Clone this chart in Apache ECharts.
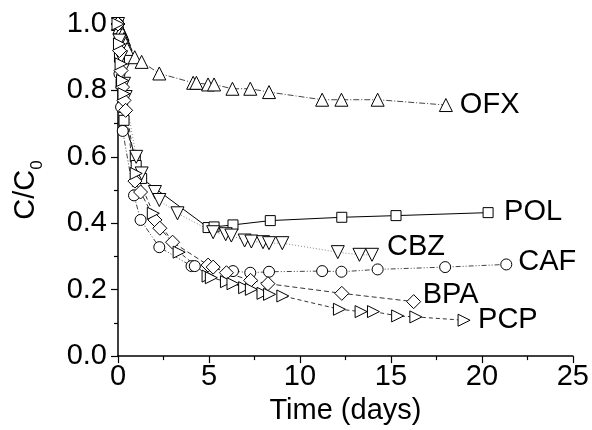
<!DOCTYPE html>
<html>
<head>
<meta charset="utf-8">
<script src="https://cdn.jsdelivr.net/npm/echarts@6/dist/echarts.min.js"></script>
<style>
html,body{margin:0;padding:0;background:#fff;}
#chart{width:592px;height:430px;}
</style>
</head>
<body>
<div id="chart"></div>
<script>
// ---- data ----
const xTicks = [0, 5, 10, 15, 20, 25];
const yTicks = [0.0, 0.2, 0.4, 0.6, 0.8, 1.0];

const ofxX = [0, 0.08, 0.17, 0.25, 0.33, 0.42, 0.5, 0.92, 1.3, 2.27, 4.13, 4.31, 4.95, 5.28, 6.29, 7.27, 8.3, 11.22, 12.28, 14.27, 18.02];
const ofxY = [1.0, 0.99, 0.98, 0.97, 0.955, 0.94, 0.925, 0.9, 0.886, 0.851, 0.823, 0.823, 0.818, 0.818, 0.805, 0.805, 0.795, 0.772, 0.772, 0.772, 0.756];

const polX = [0, 0.08, 0.17, 0.25, 0.33, 0.95, 1.0, 1.3, 4.95, 5.28, 6.32, 8.37, 12.3, 15.28, 20.34];
const polY = [1.0, 0.9, 0.82, 0.75, 0.71, 0.6, 0.574, 0.535, 0.387, 0.389, 0.395, 0.408, 0.418, 0.423, 0.432];

const cbzX = [0, 0.08, 0.17, 0.25, 0.33, 0.42, 1.0, 1.3, 2.03, 2.27, 3.27, 5.23, 5.92, 6.23, 6.96, 7.33, 7.97, 8.3, 9.03, 12.08, 13.27, 13.96];
const cbzY = [1.0, 0.95, 0.9, 0.86, 0.82, 0.78, 0.6, 0.55, 0.494, 0.47, 0.43, 0.373, 0.367, 0.363, 0.348, 0.345, 0.343, 0.34, 0.34, 0.313, 0.305, 0.305];

const cafX = [0, 0.08, 0.17, 0.26, 0.88, 1.24, 2.27, 4.04, 4.22, 6.32, 7.27, 8.3, 11.22, 12.28, 14.27, 17.98, 21.34];
const cafY = [1.0, 0.85, 0.75, 0.678, 0.484, 0.41, 0.328, 0.271, 0.271, 0.256, 0.251, 0.254, 0.256, 0.254, 0.261, 0.268, 0.276];

const bpaX = [0, 0.08, 0.17, 0.25, 0.33, 0.42, 0.93, 1.24, 2.03, 2.3, 3.0, 4.95, 5.23, 5.96, 7.29, 8.24, 12.3, 16.25];
const bpaY = [1.0, 0.92, 0.86, 0.81, 0.77, 0.74, 0.527, 0.494, 0.41, 0.385, 0.343, 0.274, 0.268, 0.251, 0.228, 0.218, 0.189, 0.164];

const pcpX = [0, 0.08, 0.17, 0.25, 0.33, 1.0, 1.94, 3.36, 4.95, 5.13, 5.96, 6.32, 6.96, 7.33, 7.97, 8.33, 9.06, 12.17, 13.36, 14.04, 15.37, 16.37, 19.02];
const pcpY = [1.0, 0.94, 0.88, 0.83, 0.79, 0.55, 0.43, 0.313, 0.241, 0.236, 0.224, 0.218, 0.206, 0.201, 0.189, 0.186, 0.181, 0.141, 0.134, 0.134, 0.121, 0.118, 0.108];

// ---- build chart ----
const FONT = '"Liberation Sans", Arial, sans-serif';
const FS = 29;
const zip = (xs, ys) => xs.map((x, i) => [x, ys[i]]);

function mk(name, xs, ys, symbol, size, rotate, dash, lineColor, labelOffset) {
  return {
    name: name,
    type: 'line',
    data: zip(xs, ys),
    symbol: symbol,
    symbolSize: size,
    symbolRotate: rotate,
    showAllSymbol: true,
    itemStyle: { color: '#fff', borderColor: '#000', borderWidth: 1 },
    lineStyle: { color: lineColor, width: 1, type: dash },
    emphasis: { disabled: true },
    animation: false,
    endLabel: {
      show: true,
      formatter: name,
      fontFamily: FONT,
      fontSize: FS,
      color: '#000',
      distance: 12,
      offset: labelOffset
    },
    z: 3
  };
}

const chart = echarts.init(document.getElementById('chart'), null, { renderer: 'canvas' });
chart.setOption({
  animation: false,
  backgroundColor: '#fff',
  grid: { left: 118, right: 17, top: 24, bottom: 71, containLabel: false },
  xAxis: {
    type: 'value',
    min: xTicks[0], max: xTicks[xTicks.length - 1], interval: 5,
    name: 'Time (days)',
    nameLocation: 'middle',
    nameGap: 38,
    nameTextStyle: { fontFamily: FONT, fontSize: FS, color: '#000' },
    axisLine: { show: true, lineStyle: { color: '#000', width: 1.5 } },
    axisTick: { show: true, inside: false, length: 7, lineStyle: { color: '#000', width: 1.2 } },
    minorTick: { show: true, splitNumber: 2, length: 4, lineStyle: { color: '#000', width: 1.2 } },
    axisLabel: { fontFamily: FONT, fontSize: FS, color: '#000', margin: 6 },
    splitLine: { show: false }
  },
  yAxis: {
    type: 'value',
    min: yTicks[0], max: yTicks[yTicks.length - 1], interval: 0.2,
    name: '{m|C/C}{s|0}',
    nameLocation: 'middle',
    nameGap: 72,
    nameRotate: 90,
    nameTextStyle: {
      fontFamily: FONT, color: '#000',
      rich: {
        m: { fontFamily: FONT, fontSize: FS, color: '#000', padding: [0, 0, 6, 0] },
        s: { fontFamily: FONT, fontSize: 17, color: '#000', verticalAlign: 'bottom' }
      }
    },
    axisLine: { show: true, lineStyle: { color: '#000', width: 1.5 } },
    axisTick: { show: true, inside: false, length: 7, lineStyle: { color: '#000', width: 1.2 } },
    minorTick: { show: true, splitNumber: 2, length: 4, lineStyle: { color: '#000', width: 1.2 } },
    axisLabel: {
      fontFamily: FONT, fontSize: FS, color: '#000', margin: 11,
      formatter: v => v.toFixed(1)
    },
    splitLine: { show: false }
  },
  series: [
    mk('OFX', ofxX, ofxY, 'triangle', 13, 0, [6, 2, 1, 2], '#444', [2, 0]),
    mk('POL', polX, polY, 'rect', 10, 0, 'solid', '#000', [4, -1]),
    mk('CBZ', cbzX, cbzY, 'triangle', 13, 180, [1, 2], '#888', [3, -8]),
    mk('CAF', cafX, cafY, 'circle', 11, 0, [5, 2, 1, 2, 1, 2], '#444', [0, -2]),
    mk('BPA', bpaX, bpaY, 'diamond', 14, 0, [5, 3], '#333', [-3, -7]),
    mk('PCP', pcpX, pcpY, 'triangle', 12, -90, [4, 3], '#333', [2, 0])
  ]
});
</script>
</body>
</html>
